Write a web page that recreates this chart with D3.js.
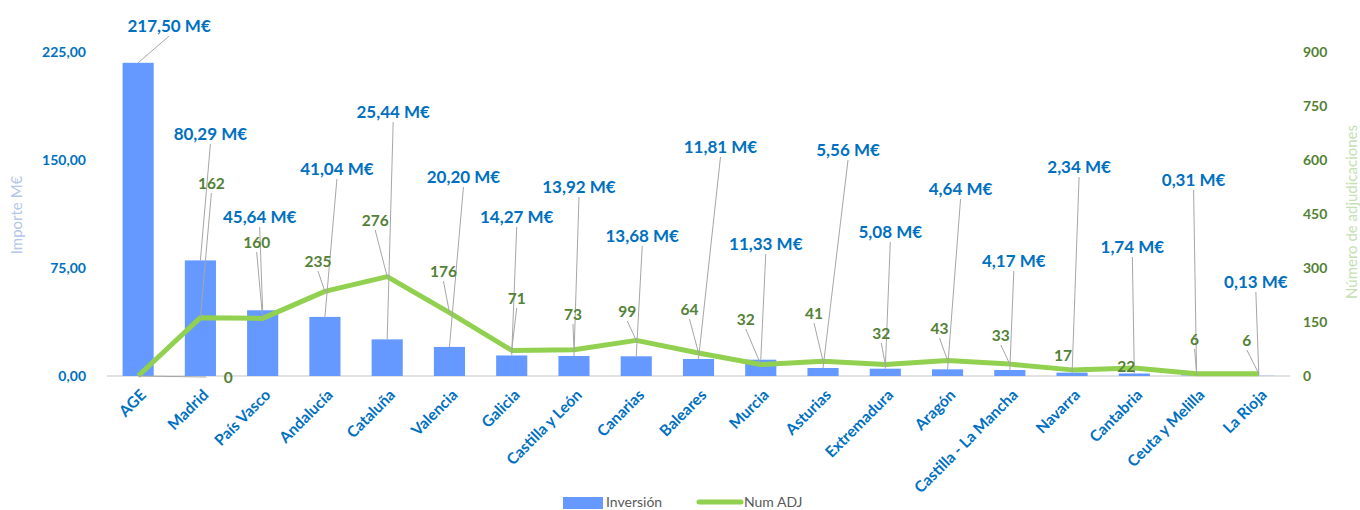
<!DOCTYPE html>
<html>
<head>
<meta charset="utf-8">
<script src="https://cdn.jsdelivr.net/npm/d3@7"></script>
<style>
    body { margin: 0; background: #fff; }
    text { font-family: Lato, "Open Sans", sans-serif; }
    .tick-l { fill: #0070c0; font-weight: bold; font-size: 14px; }
    .tick-r { fill: #538135; font-weight: bold; font-size: 14px; }
    .cat { fill: #0070c0; font-weight: bold; font-size: 15.5px; }
    .lbl-bar { fill: #0070c0; font-weight: bold; font-size: 17px; }
    .lbl-line { fill: #538135; font-weight: bold; font-size: 15.5px; }
    .leader { stroke: #a6a6a6; stroke-width: 1; }
</style>
</head>
<body>
<svg id="chart" width="1360" height="510"></svg>
<script>

const regions = ["AGE", "Madrid", "País Vasco", "Andalucía", "Cataluña", "Valencia", "Galicia",
    "Castilla y León", "Canarias", "Baleares", "Murcia", "Asturias", "Extremadura", "Aragón",
    "Castilla - La Mancha", "Navarra", "Cantabria", "Ceuta y Melilla", "La Rioja"];

const inversion = [217.50, 80.29, 45.64, 41.04, 25.44, 20.20, 14.27, 13.92, 13.68, 11.81,
    11.33, 5.56, 5.08, 4.64, 4.17, 2.34, 1.74, 0.31, 0.13];

const numAdj = [0, 162, 160, 235, 276, 176, 71, 73, 99, 64, 32, 41, 32, 43, 33, 17, 22, 6, 6];

const leftTicks = [0, 75, 150, 225];
const rightTicks = [0, 150, 300, 450, 600, 750, 900];

// label placement (dx from band centre, y in px) -- chosen by hand like the original
const barLabelPos = [[31, 26], [10, 134], [-3, 217], [12, 169], [6, 112], [14, 177], [5, 217],
    [5, 187], [6, 236], [22, 147], [5, 244], [25, 150], [5, 232], [13, 189], [4, 261],
    [7, 167], [-2, 247], [-3, 180], [-3, 282]];
const lineLabelPos = [[90, 378], [11, 184], [-6, 243], [-7, 262], [-12, 221], [-6, 272],
    [5, 299], [-1, 315], [-9, 312], [-9, 310], [-15, 320], [-9, 314], [-4, 334], [-8, 329],
    [-9, 336], [-9, 356], [-8, 367], [-2, 340], [-12, 341]];

const svg = d3.select("#chart");

const margin = { left: 107, right: 70, top: 52, bottom: 134 };
const width = 1360, height = 510;

const x = d3.scaleBand()
    .domain(regions)
    .range([margin.left, width - margin.right])
    .paddingInner(0.5)
    .paddingOuter(0.25);

const yL = d3.scaleLinear().domain([0, 225]).range([height - margin.bottom, margin.top]);
const yR = d3.scaleLinear().domain([0, 900]).range([height - margin.bottom, margin.top]);

const cx = d => x(d) + x.bandwidth() / 2;

// Baseline

svg.append("line")
    .attr("x1", margin.left).attr("x2", width - margin.right)
    .attr("y1", yL(0)).attr("y2", yL(0))
    .attr("stroke", "#d9d9d9").attr("stroke-width", 1.5);

// Axes

const axisL = svg.append("g")
    .attr("transform", `translate(${ margin.left - 18 },0)`)
    .call(d3.axisLeft(yL).tickValues(leftTicks).tickSize(0)
        .tickFormat(d => d3.format(".2f")(d).replace(".", ",")));
axisL.select(".domain").remove();
axisL.selectAll("text").attr("class", "tick-l").attr("fill", null);

const axisR = svg.append("g")
    .attr("transform", `translate(${ width - margin.right + 10 },0)`)
    .call(d3.axisRight(yR).tickValues(rightTicks).tickSize(0));
axisR.select(".domain").remove();
axisR.selectAll("text").attr("class", "tick-r").attr("fill", null);

svg.append("text")
    .attr("transform", `translate(22,${ 215 }) rotate(-90)`)
    .attr("text-anchor", "middle")
    .attr("fill", "#b4c7e7")
    .attr("font-size", 15)
    .text("Importe M€");

svg.append("text")
    .attr("transform", `translate(1357,${ 212 }) rotate(-90)`)
    .attr("text-anchor", "middle")
    .attr("fill", "#c5e0b4")
    .attr("font-size", 15)
    .text("Número de adjudicaciones");

// Category labels

svg.append("g").selectAll("text")
    .data(regions)
    .join("text")
    .attr("class", "cat")
    .attr("text-anchor", "end")
    .attr("transform", d => `translate(${ cx(d) + 9 },${ yL(0) + 20 }) rotate(-45)`)
    .text(d => d);

// Bars

svg.append("g").selectAll("rect")
    .data(regions)
    .join("rect")
    .attr("x", d => x(d))
    .attr("width", x.bandwidth())
    .attr("y", (d, i) => yL(inversion[i]))
    .attr("height", (d, i) => yL(0) - yL(inversion[i]))
    .attr("fill", "#6699ff");

// Line

svg.append("path")
    .datum(numAdj)
    .attr("fill", "none")
    .attr("stroke", "#92d050")
    .attr("stroke-width", 5)
    .attr("stroke-linejoin", "round")
    .attr("d", d3.line().x((d, i) => cx(regions[i])).y(d => yR(d)));

// Leader lines + labels

const fmtM = v => d3.format(".2f")(v).replace(".", ",") + " M€";

const leaders = svg.append("g");

regions.forEach((r, i) => {
    const bx = cx(r), by = yL(inversion[i]);
    const [dx, ly] = barLabelPos[i];
    const tx = bx + dx;
    if (by - ly > 30) {
        leaders.append("line").attr("class", "leader")
            .attr("x1", tx).attr("y1", ly + 10)
            .attr("x2", bx).attr("y2", by);
    }
    svg.append("text").attr("class", "lbl-bar")
        .attr("x", tx).attr("y", ly + 6)
        .attr("text-anchor", "middle")
        .text(fmtM(inversion[i]));

    const px = bx, py = yR(numAdj[i]);
    const [ldx, lly] = lineLabelPos[i];
    const lx = bx + ldx;
    if (Math.hypot(lx - px, lly - py) > 20) {
        const under = lly > py + 1;
        leaders.append("line").attr("class", "leader")
            .attr("x1", under ? lx - 22 : lx).attr("y1", under ? lly - 1 : lly + 9)
            .attr("x2", px).attr("y2", py);
    }
    svg.append("text").attr("class", "lbl-line")
        .attr("x", lx).attr("y", lly + 5)
        .attr("text-anchor", "middle")
        .text(numAdj[i]);
});

// Legend

const legend = svg.append("g").attr("transform", "translate(563,497)");
legend.append("rect").attr("x", 0).attr("y", 0).attr("width", 40).attr("height", 12).attr("fill", "#6699ff");
legend.append("text").attr("x", 43).attr("y", 10).attr("fill", "#595959").attr("font-size", 14).text("Inversión");
legend.append("line").attr("x1", 136).attr("x2", 178).attr("y1", 5).attr("y2", 5)
    .attr("stroke", "#92d050").attr("stroke-width", 5).attr("stroke-linecap", "round");
legend.append("text").attr("x", 181).attr("y", 10).attr("fill", "#595959").attr("font-size", 14).text("Num ADJ");

</script>
</body>
</html>
